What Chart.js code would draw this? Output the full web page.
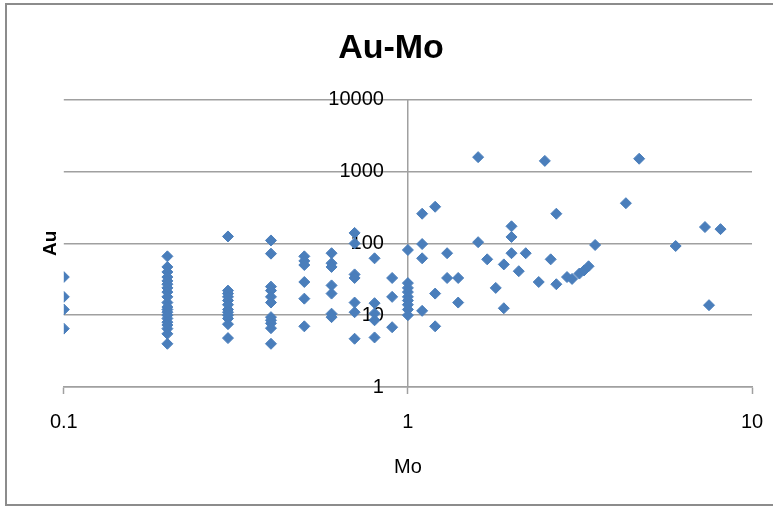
<!DOCTYPE html>
<html>
<head>
<meta charset="utf-8">
<script src="https://cdn.jsdelivr.net/npm/chart.js@4/dist/chart.umd.min.js"></script>
<style>
    html, body { margin: 0; padding: 0; background: #fff; overflow: hidden; }
    #frame {
        position: absolute; left: 5px; top: 3px; width: 800px; height: 503px;
        border: 2px solid #8c8c8c; box-sizing: border-box;
    }
    #plot { position: absolute; left: 0; top: 0; }
</style>
</head>
<body>
<div id="frame"></div>
<canvas id="plot" width="795" height="511"></canvas>
<script>
// Mo / Au pairs, ppm, one entry per sample
const moValues = [
    0.1, 0.1, 0.1, 0.1,
    0.2, 0.2, 0.2, 0.2, 0.2, 0.2, 0.2, 0.2, 0.2, 0.2, 0.2, 0.2, 0.2, 0.2, 0.2, 0.2, 0.2, 0.2, 0.2, 0.2,
    0.3, 0.3, 0.3, 0.3, 0.3, 0.3, 0.3, 0.3, 0.3, 0.3, 0.3, 0.3,
    0.4, 0.4, 0.4, 0.4, 0.4, 0.4, 0.4, 0.4, 0.4, 0.4, 0.4,
    0.5, 0.5, 0.5, 0.5, 0.5, 0.5,
    0.6, 0.6, 0.6, 0.6, 0.6, 0.6, 0.6,
    0.7, 0.7, 0.7, 0.7, 0.7, 0.7, 0.7,
    0.8, 0.8, 0.8, 0.8, 0.8,
    0.9, 0.9, 0.9,
    1, 1, 1, 1, 1, 1, 1, 1, 1,
    1.1, 1.1, 1.1, 1.1,
    1.2, 1.2, 1.2,
    1.3, 1.3,
    1.4, 1.4,
    1.6, 1.6,
    1.7, 1.8, 1.9, 1.9,
    2.0, 2.0, 2.0,
    2.1, 2.2, 2.4, 2.5, 2.6, 2.7, 2.7,
    2.9, 3.0, 3.15, 3.25, 3.35, 3.5,
    4.3, 4.7, 6.0, 7.3, 7.5, 8.1
];
const auValues = [
    34, 18, 12, 6.5,
    66, 47, 40, 34, 30, 27, 24, 21, 18, 15, 13, 12, 11, 10, 9, 8, 7.3, 6.5, 5.5, 4,
    125, 22, 20, 18, 16, 14, 12, 11, 10, 9, 7.5, 4.8,
    110, 72, 25, 22, 18, 15, 9.4, 8.5, 7.7, 6.6, 4,
    66, 57, 50, 29, 17, 7,
    73, 53, 47, 26, 20, 10.5, 9.4,
    140, 100, 37, 33, 15, 11, 4.7,
    62, 14.7, 10.6, 8.5, 4.9,
    33, 18, 6.8,
    81, 28, 24, 21, 18, 16, 14, 12, 10,
    259, 98, 62, 11.5,
    324, 20, 7,
    73, 33,
    33, 15,
    1590, 104,
    60, 24, 51, 12.5,
    173, 123, 73,
    41, 73, 29, 1410, 60, 259, 27,
    34, 32, 38, 42, 48, 95,
    363, 1510, 92, 169, 13.8, 158
];
const moTicks = [0.1, 1, 10];
const auTicks = [1, 10, 100, 1000, 10000];

const fontFamily = "'Liberation Sans', Arial, sans-serif";
const axisGray = '#a0a0a0';
const markerBlue = '#4a7ebb';

const points = moValues.map((mo, i) => ({ x: mo, y: auValues[i] }));

new Chart(document.getElementById('plot').getContext('2d'), {
    type: 'scatter',
    data: {
        datasets: [{
            data: points,
            pointStyle: 'rectRot',
            pointRadius: 5.5,
            borderWidth: 1,
            backgroundColor: markerBlue,
            borderColor: markerBlue,
        }]
    },
    options: {
        responsive: false,
        animation: false,
        devicePixelRatio: 1,
        layout: {
            padding: { left: 30, right: 43, top: 0, bottom: 22 },
        },
        plugins: {
            legend: { display: false },
            tooltip: { enabled: false },
            title: {
                display: true,
                text: 'Au-Mo',
                color: '#000',
                font: { family: fontFamily, size: 34, weight: 'bold' },
                padding: { top: 28, bottom: 31 },
            },
        },
        scales: {
            x: {
                type: 'logarithmic',
                position: 'bottom',
                min: 0.1,
                max: 10,
                afterBuildTicks: (scale) => { scale.ticks = moTicks.map(v => ({ value: v })); },
                ticks: {
                    callback: (v) => String(v),
                    color: '#000',
                    font: { family: fontFamily, size: 20 },
                    padding: 16,
                    maxRotation: 0,
                    autoSkip: false,
                },
                grid: {
                    drawOnChartArea: false,
                    drawTicks: true,
                    tickLength: 7,
                    tickColor: axisGray,
                    tickWidth: 1.5,
                },
                border: { display: true, color: axisGray, width: 1.5 },
                title: {
                    display: true,
                    text: 'Mo',
                    color: '#000',
                    font: { family: fontFamily, size: 20 },
                    padding: { top: 5, bottom: 10 },
                },
            },
            y: {
                type: 'logarithmic',
                // the x range is symmetric round Mo = 1, so the centre is where the axis crosses
                position: 'center',
                min: 1,
                max: 10000,
                afterBuildTicks: (scale) => { scale.ticks = auTicks.map(v => ({ value: v })); },
                ticks: {
                    callback: (v) => String(v),
                    color: '#000',
                    font: { family: fontFamily, size: 20 },
                    autoSkip: false,
                },
                grid: {
                    color: axisGray,
                    lineWidth: 1.5,
                    drawTicks: true,
                    tickLength: 21,           // gap between the labels and the axis line
                    tickColor: 'rgba(0,0,0,0)',
                },
                border: { display: true, color: axisGray, width: 1.5 },
            },
            // holds only the "Au" title on the left edge
            yTitle: {
                type: 'linear',
                position: 'left',
                ticks: { display: false },
                grid: { display: false, drawTicks: false },
                border: { display: false },
                title: {
                    display: true,
                    text: 'Au',
                    color: '#000',
                    font: { family: fontFamily, size: 19, weight: 'bold' },
                    padding: { top: 9, bottom: 2 },
                },
            },
        },
    },
});
</script>
</body>
</html>
